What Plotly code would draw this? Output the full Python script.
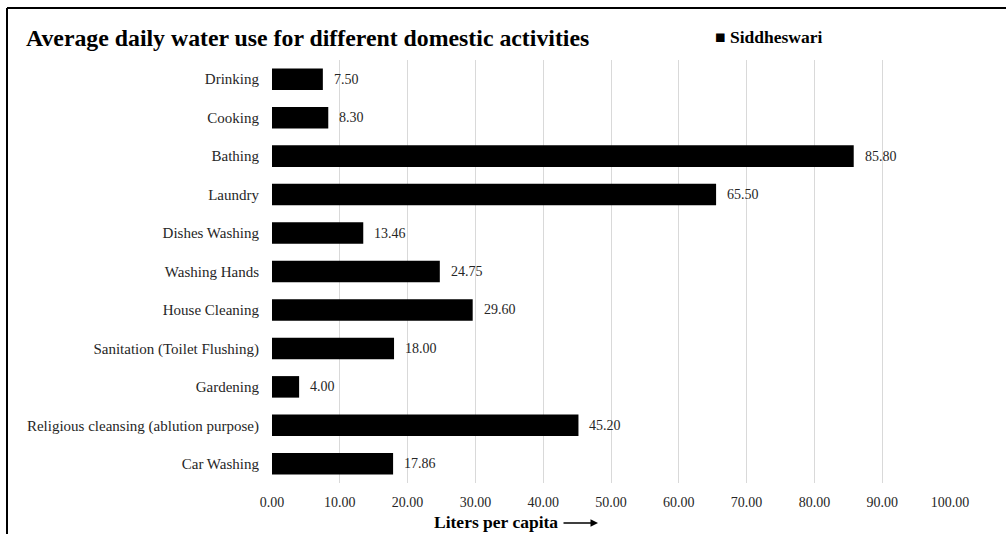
import plotly.graph_objects as go

activities = ["Drinking", "Cooking", "Bathing", "Laundry", "Dishes Washing", "Washing Hands",
              "House Cleaning", "Sanitation (Toilet Flushing)", "Gardening",
              "Religious cleansing (ablution purpose)", "Car Washing"]
siddheswari = [7.50, 8.30, 85.80, 65.50, 13.46, 24.75, 29.60, 18.00, 4.00, 45.20, 17.86]
x_ticks = [0, 10, 20, 30, 40, 50, 60, 70, 80, 90, 100]
x_tick_labels = ["%.2f" % v for v in x_ticks]

SERIF = "Liberation Serif, Times New Roman, serif"
W, H = 1006, 534
L, R, T, B = 272, 56, 60, 51
pw, ph = W - L - R, H - T - B

def px_x(p):
    return (p - L) / pw

def px_y(p):
    return (H - B - p) / ph

fig = go.Figure()
fig.add_trace(go.Bar(
    x=siddheswari, y=activities, orientation="h", name="Siddheswari",
    marker=dict(color="black", line=dict(width=0)), showlegend=False,
))

annotations = []
for a, v in zip(activities, siddheswari):
    annotations.append(dict(x=v, y=a, xref="x", yref="y", text="%.2f" % v,
                            showarrow=False, xanchor="left", xshift=9,
                            font=dict(family=SERIF, size=14, color="#262626")))

annotations.append(dict(x=px_x(24), y=px_y(38), xref="paper", yref="paper",
                        text="<b>Average daily water use for different domestic activities</b>",
                        showarrow=False, xanchor="left", yanchor="middle",
                        font=dict(family=SERIF, size=23.8, color="black")))
annotations.append(dict(x=px_x(713), y=px_y(37), xref="paper", yref="paper",
                        text="<b>■ Siddheswari</b>",
                        showarrow=False, xanchor="left", yanchor="middle",
                        font=dict(family=SERIF, size=17.5, color="black")))
annotations.append(dict(x=px_x(432), y=px_y(522), xref="paper", yref="paper",
                        text="<b>Liters per capita</b>",
                        showarrow=False, xanchor="left", yanchor="middle",
                        font=dict(family=SERIF, size=17.5, color="black")))
annotations.append(dict(x=px_x(598), y=px_y(523), xref="paper", yref="paper",
                        ax=-36, ay=0, axref="pixel", ayref="pixel", text="",
                        showarrow=True, arrowhead=2, arrowsize=1, arrowwidth=1.5,
                        arrowcolor="black"))

fig.update_layout(
    width=W, height=H,
    margin=dict(l=L, r=R, t=T, b=B, pad=0),
    paper_bgcolor="white", plot_bgcolor="white",
    bargap=0.44,
    annotations=annotations,
    font=dict(family=SERIF, size=14, color="#262626"),
    shapes=[
        dict(type="line", xref="paper", yref="paper", x0=px_x(7), x1=px_x(W + 5),
             y0=px_y(8), y1=px_y(8), line=dict(color="black", width=2)),
        dict(type="line", xref="paper", yref="paper", x0=px_x(7), x1=px_x(7),
             y0=px_y(8), y1=px_y(H + 5), line=dict(color="black", width=2)),
    ],
)
fig.update_xaxes(
    range=[0, 100], tickvals=x_ticks, ticktext=x_tick_labels,
    showgrid=True, gridcolor="#d9d9d9", gridwidth=1, zeroline=False,
    showline=False, ticks="", ticklabelstandoff=9,
    tickfont=dict(family=SERIF, size=14, color="#262626"), fixedrange=True,
)
fig.update_yaxes(
    autorange="reversed", showgrid=False, zeroline=False, showline=False,
    ticks="", ticklabelstandoff=12,
    tickfont=dict(family=SERIF, size=15, color="#262626"), fixedrange=True,
)

fig.write_html("out.html")
